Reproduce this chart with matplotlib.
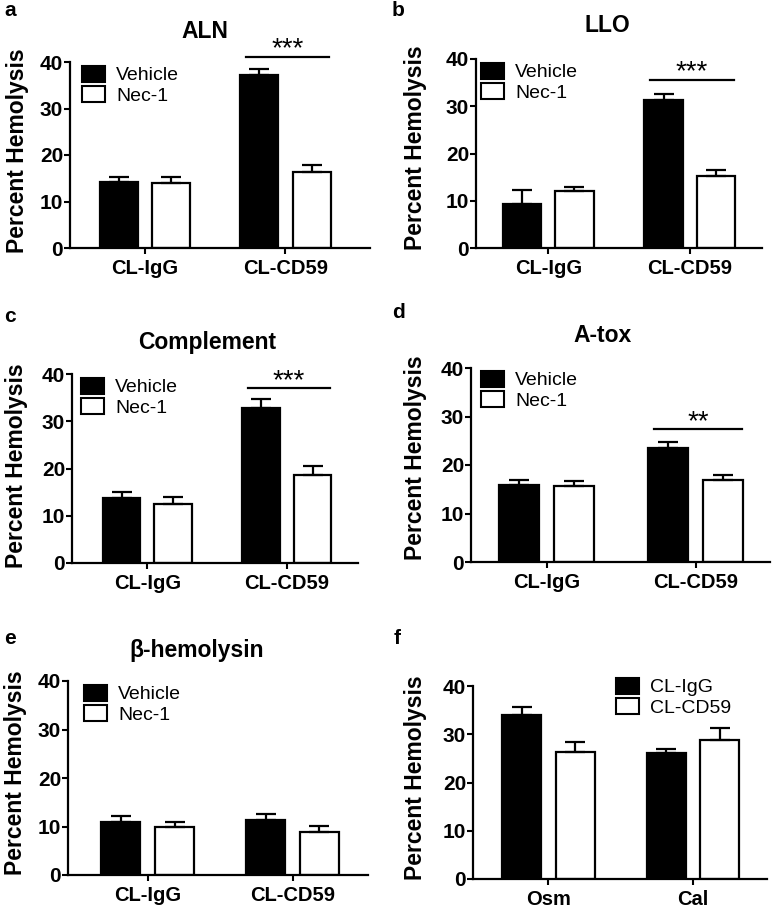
import matplotlib
matplotlib.use("Agg")
import matplotlib.pyplot as plt
from matplotlib.patches import Patch

plt.rcParams['font.family'] = ['Liberation Sans', 'DejaVu Sans']

W, H = 773, 909

# data (percent hemolysis, mean and upper error)
groups = ['CL-IgG', 'CL-CD59']
series = ['Vehicle', 'Nec-1']

aln_vehicle = [14.2, 37.1]
aln_vehicle_err = [1.1, 1.5]
aln_nec1 = [14.0, 16.3]
aln_nec1_err = [1.2, 1.5]

llo_vehicle = [9.4, 31.3]
llo_vehicle_err = [2.9, 1.2]
llo_nec1 = [12.0, 15.3]
llo_nec1_err = [0.9, 1.2]

comp_vehicle = [13.8, 32.8]
comp_vehicle_err = [1.3, 2.0]
comp_nec1 = [12.5, 18.7]
comp_nec1_err = [1.5, 1.9]

atox_vehicle = [15.8, 23.6]
atox_vehicle_err = [1.2, 1.1]
atox_nec1 = [15.6, 16.9]
atox_nec1_err = [1.2, 1.0]

beta_vehicle = [11.0, 11.4]
beta_vehicle_err = [1.2, 1.2]
beta_nec1 = [9.8, 8.9]
beta_nec1_err = [1.2, 1.2]

osmcal_groups = ['Osm', 'Cal']
osmcal_series = ['CL-IgG', 'CL-CD59']
osmcal_igg = [34.0, 26.2]
osmcal_igg_err = [1.6, 0.7]
osmcal_cd59 = [26.4, 28.9]
osmcal_cd59_err = [1.9, 2.3]

# significance: (y of bar line, stars)
sig = {'a': (41.1, '***'), 'b': (35.6, '***'), 'c': (37.0, '***'), 'd': (27.4, '**')}

fig = plt.figure(figsize=(W / 100, H / 100), dpi=100)


def px_axes(x0, x1, ytop, ybot):
    return fig.add_axes([x0 / W, (H - ybot) / H, (x1 - x0) / W, (ybot - ytop) / H])


def fig_text(x, y, s, **kw):
    fig.text(x / W, (H - y) / H, s, **kw)


def panel(ax, xlim, cats, names, v1, e1, v2, e2, leg_xy):
    off, bw = 0.185, 0.27
    xs = list(range(len(cats)))
    ax.bar([x - off for x in xs], v1, bw, color='black', edgecolor='black', linewidth=1.6, zorder=2)
    ax.bar([x + off for x in xs], v2, bw, color='white', edgecolor='black', linewidth=1.6, zorder=2)
    ax.errorbar([x - off for x in xs], v1, yerr=[[0] * len(v1), e1], fmt='none',
                ecolor='black', elinewidth=1.6, capsize=7, capthick=1.6, zorder=3)
    ax.errorbar([x + off for x in xs], v2, yerr=[[0] * len(v2), e2], fmt='none',
                ecolor='black', elinewidth=1.6, capsize=7, capthick=1.6, zorder=3)
    ax.set_xlim(*xlim)
    ax.set_ylim(0, 40)
    ax.set_yticks([0, 10, 20, 30, 40])
    ax.set_xticks(xs)
    ax.set_xticklabels(cats, fontsize=14.5, fontweight='bold')
    for lab in ax.get_yticklabels():
        lab.set_fontsize(15)
        lab.set_fontweight('bold')
    ax.tick_params(axis='both', width=1.5, length=4, direction='out')
    ax.tick_params(axis='y', pad=1)
    ax.tick_params(axis='x', pad=4)
    for s in ['top', 'right']:
        ax.spines[s].set_visible(False)
    for s in ['left', 'bottom']:
        ax.spines[s].set_linewidth(1.6)
    handles = [Patch(facecolor='black', edgecolor='black', linewidth=1.5),
               Patch(facecolor='white', edgecolor='black', linewidth=1.5)]
    ax.legend(handles, names, loc='upper left', frameon=False, fontsize=14,
              bbox_to_anchor=(leg_xy[0] / W, (H - leg_xy[1]) / H), bbox_transform=fig.transFigure,
              borderpad=0, borderaxespad=0, handlelength=1.2, handleheight=0.85,
              handletextpad=0.55, labelspacing=0.1)


def add_sig(ax, key):
    y, stars = sig[key]
    ax.plot([0.72, 1.31], [y, y], color='black', linewidth=1.6, clip_on=False)
    ax.text(1.015, y - 1.2, stars, ha='center', va='bottom', fontsize=20, clip_on=False)


# a
ax = px_axes(70, 370, 62, 248)
panel(ax, (-0.53, 1.6), groups, series, aln_vehicle, aln_vehicle_err, aln_nec1, aln_nec1_err, (82, 66))
add_sig(ax, 'a')
fig_text(205, 31, 'ALN', ha='center', va='center', fontsize=16.5, fontweight='bold')
fig_text(18, 151, 'Percent Hemolysis', rotation=90, ha='center', va='center', fontsize=16.5, fontweight='bold')
fig_text(4, 11, 'a', ha='left', va='center', fontsize=15, fontweight='bold')

# b
ax = px_axes(476, 762, 59, 248)
panel(ax, (-0.51, 1.51), groups, series, llo_vehicle, llo_vehicle_err, llo_nec1, llo_nec1_err, (481, 63))
add_sig(ax, 'b')
fig_text(607, 25, 'LLO', ha='center', va='center', fontsize=16.5, fontweight='bold')
fig_text(416, 148, 'Percent Hemolysis', rotation=90, ha='center', va='center', fontsize=16.5, fontweight='bold')
fig_text(392, 11, 'b', ha='left', va='center', fontsize=15, fontweight='bold')

# c
ax = px_axes(72, 358, 374, 563)
panel(ax, (-0.54, 1.51), groups, series, comp_vehicle, comp_vehicle_err, comp_nec1, comp_nec1_err, (81, 378))
add_sig(ax, 'c')
fig_text(207, 343, 'Complement', ha='center', va='center', fontsize=16.5, fontweight='bold')
fig_text(17, 466, 'Percent Hemolysis', rotation=90, ha='center', va='center', fontsize=16.5, fontweight='bold')
fig_text(4, 316, 'c', ha='left', va='center', fontsize=15, fontweight='bold')

# d
ax = px_axes(471, 770, 368, 562)
panel(ax, (-0.51, 1.5), groups, series, atox_vehicle, atox_vehicle_err, atox_nec1, atox_nec1_err, (481, 371))
add_sig(ax, 'd')
fig_text(603, 335, 'A-tox', ha='center', va='center', fontsize=16.5, fontweight='bold')
fig_text(416, 458, 'Percent Hemolysis', rotation=90, ha='center', va='center', fontsize=16.5, fontweight='bold')
fig_text(392, 312, 'd', ha='left', va='center', fontsize=15, fontweight='bold')

# e
ax = px_axes(68, 368, 681, 875)
panel(ax, (-0.55, 1.52), groups, series, beta_vehicle, beta_vehicle_err, beta_nec1, beta_nec1_err, (84, 685))
fig_text(197, 650, 'β-hemolysin', ha='center', va='center', fontsize=16.5, fontweight='bold')
fig_text(16, 773, 'Percent Hemolysis', rotation=90, ha='center', va='center', fontsize=16.5, fontweight='bold')
fig_text(4, 638, 'e', ha='left', va='center', fontsize=15, fontweight='bold')

# f
ax = px_axes(473, 767, 686, 879)
panel(ax, (-0.52, 1.51), osmcal_groups, osmcal_series, osmcal_igg, osmcal_igg_err, osmcal_cd59, osmcal_cd59_err, (616, 678))
fig_text(416, 778, 'Percent Hemolysis', rotation=90, ha='center', va='center', fontsize=16.5, fontweight='bold')
fig_text(394, 638, 'f', ha='left', va='center', fontsize=15, fontweight='bold')

fig.savefig('out.png', dpi=100)
